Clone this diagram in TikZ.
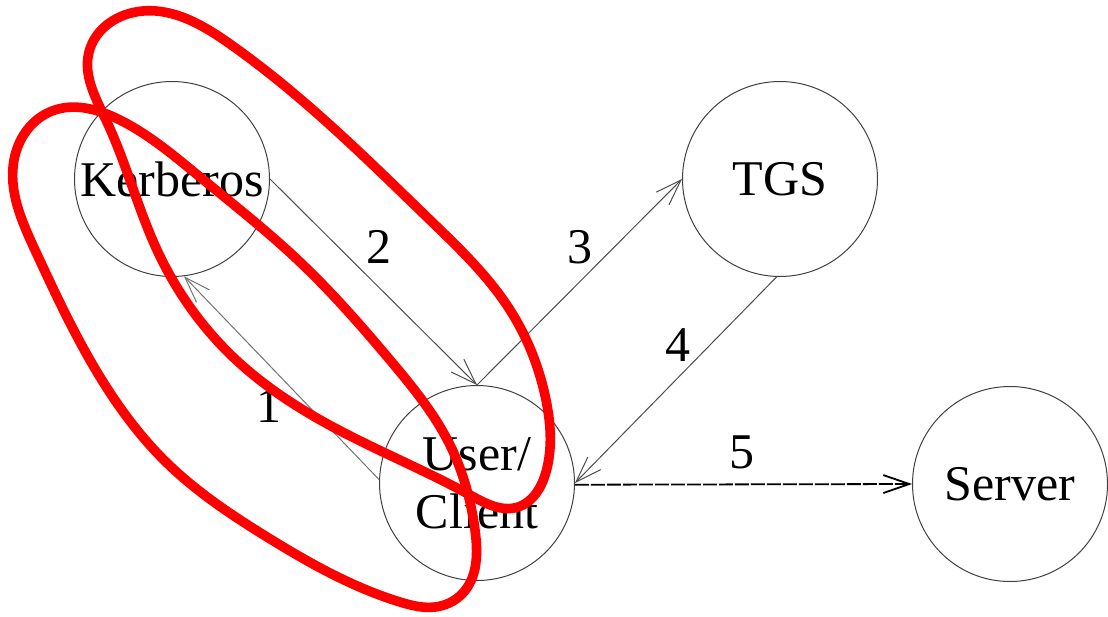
\documentclass[tikz,border=0pt]{standalone}
\usepackage{fontspec}
\setmainfont{Liberation Serif}
\usetikzlibrary{arrows.meta, positioning, hobby}

\begin{document}
\begin{tikzpicture}[x=0.5pt, y=-0.5pt,
    party/.style={circle, draw=black!75, line width=0.5pt, minimum size=97.5pt,
        inner sep=0pt, align=center, font=\fontsize{25}{29}\selectfont},
    msg/.style={draw=black!70, line width=0.5pt, -{Straight Barb[length=13pt, width=9pt]}},
    num/.style={font=\fontsize{25}{29}\selectfont},
    scribble/.style={red, line width=4.8pt, line join=round, use Hobby shortcut, closed=true}]
        \useasboundingbox (0,0) rectangle (1108,616);

        % Parties
        \node[party] (kerb) at (172,179) {Kerberos};
        \node[party] (tgs) at (780,179) {TGS};
        \node[party] (user) at (477,483) {User/\\Client};
        \node[party] (server) at (1010,484) {Server};

        % Messages
        \draw[msg, draw=black!55] (user.178) -- (kerb.277);
        \draw[msg] (kerb.0) -- (user.north);
        \draw[msg] (user.north) -- (tgs.west);
        \draw[msg] (tgs.268) -- (user.0);
        \draw[msg, draw=black, line width=0.9pt, dash pattern=on 7pt off 1pt] (user.-1) -- (server.west);

        % Step numbers
        \node[num] (n1) at (269,406) {1};
        \node[num] (n2) at (379,247) {2};
        \node[num] (n3) at (580,247) {3};
        \node[num] (n4) at (678,345) {4};
        \node[num] (n5) at (742,452) {5};

        % Red marks
        \draw[scribble] (143,11) .. (230,44) .. (330,125) .. (430,220) .. (510,310)
            .. (546,400) .. (546,472) .. (518,507) .. (470,495) .. (333,427)
            .. (233,357) .. (157,250) .. (106,120) .. (89,52);
        \draw[scribble] (14,160) .. (52,111) .. (120,120) .. (200,177) .. (300,262)
            .. (390,360) .. (450,445) .. (475,530) .. (462,594) .. (435,607)
            .. (400,602) .. (267,537) .. (167,463) .. (100,377) .. (35,250);
\end{tikzpicture}
\end{document}
